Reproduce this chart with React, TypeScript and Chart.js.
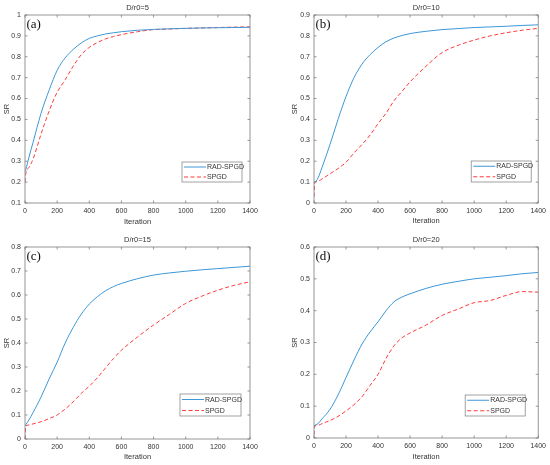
import { useEffect, useRef } from 'react';
import { Chart, registerables } from 'chart.js';

Chart.register(...registerables);

// sample iterations shared by every curve
const ITER = [0, 5, 25, 50, 100, 150, 200, 250, 300, 350, 400, 450, 500, 550, 600, 700, 800, 900, 1000, 1100, 1200, 1300, 1400];

// (a) D/r0=5
const A_RAD = [0.25, 0.26, 0.32, 0.39, 0.53, 0.64, 0.735, 0.795, 0.835, 0.866, 0.888, 0.9, 0.909, 0.915, 0.92, 0.927, 0.931, 0.934, 0.936, 0.938, 0.939, 0.94, 0.941];
const A_SPGD = [0.2, 0.24, 0.27, 0.31, 0.43, 0.54, 0.63, 0.69, 0.755, 0.81, 0.845, 0.868, 0.885, 0.897, 0.906, 0.92, 0.93, 0.933, 0.936, 0.938, 0.94, 0.942, 0.943];
// (b) D/r0=10
const B_RAD = [0.1, 0.1, 0.12, 0.17, 0.28, 0.4, 0.51, 0.6, 0.665, 0.71, 0.745, 0.772, 0.79, 0.802, 0.811, 0.822, 0.83, 0.835, 0.84, 0.843, 0.846, 0.85, 0.853];
const B_SPGD = [0.03, 0.1, 0.105, 0.115, 0.14, 0.165, 0.195, 0.24, 0.28, 0.325, 0.38, 0.43, 0.49, 0.535, 0.58, 0.655, 0.72, 0.755, 0.78, 0.8, 0.815, 0.827, 0.836];
// (c) D/r0=15
const C_RAD = [0.055, 0.06, 0.08, 0.11, 0.175, 0.25, 0.32, 0.4, 0.465, 0.52, 0.562, 0.593, 0.617, 0.635, 0.648, 0.668, 0.683, 0.692, 0.699, 0.705, 0.71, 0.715, 0.72];
const C_SPGD = [0.0, 0.055, 0.058, 0.063, 0.072, 0.085, 0.1, 0.125, 0.155, 0.19, 0.22, 0.255, 0.295, 0.335, 0.37, 0.425, 0.475, 0.52, 0.565, 0.595, 0.62, 0.64, 0.655];
// (d) D/r0=20
const D_RAD = [0.038, 0.04, 0.045, 0.06, 0.09, 0.135, 0.19, 0.245, 0.295, 0.333, 0.365, 0.4, 0.428, 0.443, 0.453, 0.47, 0.483, 0.492, 0.5, 0.505, 0.51, 0.516, 0.52];
const D_SPGD = [0.01, 0.038, 0.04, 0.045, 0.055, 0.068, 0.085, 0.105, 0.13, 0.165, 0.2, 0.25, 0.29, 0.315, 0.33, 0.355, 0.385, 0.405, 0.425, 0.432, 0.448, 0.46, 0.458];

const SERIES_NAMES = ['RAD-SPGD', 'SPGD'];
const TITLES = ['D/r0=5', 'D/r0=10', 'D/r0=15', 'D/r0=20'];
const TAGS = ['(a)', '(b)', '(c)', '(d)'];
const Y_RANGES = [[0.1, 1], [0, 0.9], [0, 0.8], [0, 0.6]];

const SANS = '"Liberation Sans", Arial, sans-serif';
const BLUE = '#3d97d6';
const RED = '#ff3b3b';
const AXIS = '#7c7c7c';
const TEXT = '#333333';

const panels = [
  { rad: A_RAD, spgd: A_SPGD, x: 0, y: 0, h: 232, pad: { left: 0, right: 25, top: 15 }, yw: 25, xh: 29, ytp: 2, xtp: 5.8, leg: { r: 8, b: 21, w: 60, h: 20 } },
  { rad: B_RAD, spgd: B_SPGD, x: 275, y: 0, h: 232, pad: { left: 0, right: 11, top: 15 }, yw: 39, xh: 29, ytp: 15.5, xtp: 6.8, leg: { r: 7, b: 21, w: 60, h: 21 } },
  { rad: C_RAD, spgd: C_SPGD, x: 0, y: 232, h: 233, pad: { left: 0, right: 25, top: 15 }, yw: 25, xh: 26, ytp: 2, xtp: 3.5, leg: { r: 9, b: 23, w: 61, h: 22 } },
  { rad: D_RAD, spgd: D_SPGD, x: 275, y: 232, h: 233, pad: { left: 0, right: 11, top: 15 }, yw: 39, xh: 27, ytp: 15.5, xtp: 3.5, leg: { r: 13, b: 22, w: 60, h: 21 } },
];

const fmt = (v: number | string) => String(Number(Number(v).toFixed(2)));

// MATLAB style box: inward ticks on four sides, title, panel tag and legend
const matlabBox = {
  id: 'matlabBox',
  afterDatasetsDraw(chart: any, _args: any, opts: any) {
    const { ctx, chartArea: a } = chart;
    const xs = chart.scales.x;
    const ys = chart.scales.y;
    const tl = 2.5;
    ctx.save();
    ctx.strokeStyle = AXIS;
    ctx.lineWidth = 0.8;
    ctx.strokeRect(a.left, a.top, a.right - a.left, a.bottom - a.top);
    ctx.beginPath();
    xs.ticks.forEach((t: any) => {
      const px = xs.getPixelForValue(t.value);
      ctx.moveTo(px, a.bottom);
      ctx.lineTo(px, a.bottom - tl);
      ctx.moveTo(px, a.top);
      ctx.lineTo(px, a.top + tl);
    });
    ys.ticks.forEach((t: any) => {
      const py = ys.getPixelForValue(t.value);
      ctx.moveTo(a.left, py);
      ctx.lineTo(a.left + tl, py);
      ctx.moveTo(a.right, py);
      ctx.lineTo(a.right - tl, py);
    });
    ctx.stroke();

    ctx.fillStyle = TEXT;
    ctx.textAlign = 'center';
    ctx.textBaseline = 'middle';
    ctx.font = `7.5px ${SANS}`;
    ctx.fillText(opts.title, (a.left + a.right) / 2, a.top - 6.7);

    ctx.fillStyle = '#111111';
    ctx.textAlign = 'left';
    ctx.font = `13px "Liberation Serif", "Times New Roman", serif`;
    ctx.fillText(opts.tag, a.left + 1.5, a.top + 9.5);

    const lg = opts.leg;
    const bx = a.right - lg.r - lg.w;
    const by = a.bottom - lg.b - lg.h;
    ctx.fillStyle = '#ffffff';
    ctx.fillRect(bx, by, lg.w, lg.h);
    ctx.strokeStyle = '#8a8a8a';
    ctx.lineWidth = 0.8;
    ctx.strokeRect(bx, by, lg.w, lg.h);
    ctx.font = `7px ${SANS}`;
    chart.data.datasets.forEach((ds: any, i: number) => {
      const ry = by + lg.h * (i === 0 ? 0.25 : 0.75);
      ctx.strokeStyle = ds.borderColor;
      ctx.lineWidth = ds.borderWidth;
      ctx.setLineDash(ds.borderDash || []);
      ctx.beginPath();
      ctx.moveTo(bx + 2, ry);
      ctx.lineTo(bx + 24, ry);
      ctx.stroke();
      ctx.setLineDash([]);
      ctx.fillStyle = TEXT;
      ctx.fillText(ds.label, bx + 25, ry + 0.3);
    });
    ctx.restore();
  },
};

function Panel({ idx }: { idx: number }) {
  const ref = useRef<HTMLCanvasElement>(null);
  const p = panels[idx];

  useEffect(() => {
    const ctx = ref.current?.getContext('2d');
    if (!ctx) return;
    const chart = new Chart(ctx, {
      type: 'line',
      data: {
        datasets: [
          {
            label: SERIES_NAMES[0],
            data: ITER.map((x, i) => ({ x, y: p.rad[i] })),
            borderColor: BLUE,
            borderWidth: 1,
            pointRadius: 0,
            cubicInterpolationMode: 'monotone',
          },
          {
            label: SERIES_NAMES[1],
            data: ITER.map((x, i) => ({ x, y: p.spgd[i] })),
            borderColor: RED,
            borderWidth: 1,
            borderDash: [4, 2.5],
            pointRadius: 0,
            cubicInterpolationMode: 'monotone',
          },
        ],
      },
      options: {
        animation: false,
        responsive: false,
        events: [],
        layout: { padding: { ...p.pad, bottom: 0 } },
        plugins: {
          legend: { display: false },
          tooltip: { enabled: false },
          title: { display: false },
          matlabBox: { title: TITLES[idx], tag: TAGS[idx], leg: p.leg },
        } as any,
        scales: {
          x: {
            type: 'linear',
            min: 0,
            max: 1400,
            grid: { display: false, drawTicks: false },
            border: { display: false },
            afterFit: (s: any) => { s.height = p.xh; },
            ticks: { stepSize: 200, autoSkip: false, maxRotation: 0, padding: 4, color: TEXT, font: { family: SANS, size: 7 }, callback: (v: any) => fmt(v) },
            title: { display: true, text: 'Iteration', color: TEXT, font: { family: SANS, size: 7.5 }, padding: { top: 0, bottom: p.xtp } },
          },
          y: {
            type: 'linear',
            min: Y_RANGES[idx][0],
            max: Y_RANGES[idx][1],
            grid: { display: false, drawTicks: false },
            border: { display: false },
            afterFit: (s: any) => { s.width = p.yw; },
            ticks: { stepSize: 0.1, padding: 4, color: TEXT, font: { family: SANS, size: 7 }, callback: (v: any) => fmt(v) },
            title: { display: true, text: 'SR', color: TEXT, font: { family: SANS, size: 7.5 }, padding: { top: p.ytp, bottom: p.ytp } },
          },
        },
      },
      plugins: [matlabBox],
    });
    return () => chart.destroy();
  }, [idx]);

  return (
    <canvas
      ref={ref}
      width={275}
      height={p.h}
      style={{ position: 'absolute', left: p.x, top: p.y, width: 275, height: p.h }}
    />
  );
}

export default function App() {
  return (
    <div style={{ position: 'absolute', left: 0, top: 0, width: 550, height: 465, background: '#ffffff' }}>
      {panels.map((_, i) => (
        <Panel key={i} idx={i} />
      ))}
    </div>
  );
}
